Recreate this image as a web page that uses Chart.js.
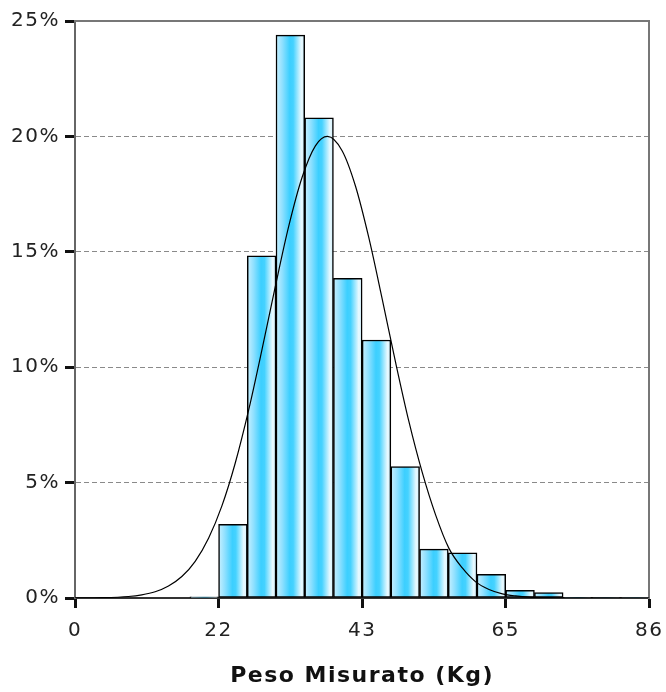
<!DOCTYPE html>
<html>
<head>
<meta charset="utf-8">
<title>Peso Misurato</title>
<script src="https://cdn.jsdelivr.net/npm/chart.js@4/dist/chart.umd.min.js"></script>
<style>
  html, body { margin: 0; padding: 0; background: #fff; }
  #wrap { width: 666px; height: 692px; }
</style>
</head>
<body>
<div id="wrap"><canvas id="c" width="666" height="692"></canvas></div>
<script>
// Weight classes (kg): centres of the 4.3 kg classes from 0 to 86
const binCenters = [2.15, 6.45, 10.75, 15.05, 19.35, 23.65, 27.95, 32.25, 36.55, 40.85,
                    45.15, 49.45, 53.75, 58.05, 62.35, 66.65, 70.95, 75.25, 79.55, 83.85];
// Share of subjects falling in each class (%)
const binShares = [0, 0, 0, 0, 0.05, 3.19, 14.82, 24.39, 20.8, 13.85,
                   11.18, 5.69, 2.12, 1.96, 1.03, 0.33, 0.23, 0.03, 0.02, 0.02];
// Fitted normal curve: weight (kg) and expected share (%)
const curveKg  = [0, 4, 8, 10, 12, 14, 16, 18, 20, 22, 24, 26, 28, 30, 32, 34, 36, 37.8,
                  40, 42, 44, 46, 48, 50, 52, 54, 56, 58, 60, 62, 64, 66, 68, 72, 76, 86];
const curvePct = [0.002, 0.013, 0.065, 0.136, 0.27, 0.52, 0.93, 1.59, 2.59, 3.99, 5.85, 8.14,
                  10.76, 13.5, 16.1, 18.22, 19.59, 20, 19.38, 17.85, 15.61, 12.96, 10.22, 7.65,
                  5.44, 3.6, 2.15, 1.3, 0.7, 0.37, 0.18, 0.09, 0.04, 0.01, 0.002, 0];
// Axis ticks
const yTicks = [0, 5, 10, 15, 20, 25];
const xTickValues = [0, 21.5, 43, 64.5, 86];
const xTickLabels = ['0', '22', '43', '65', '86'];
const xTitle = 'Peso Misurato (Kg)';

const FONT = 'DejaVu Sans';

// Vertical cyan shading for each bar, spanning its own class width
function barFill(ctx) {
  const chart = ctx.chart;
  const xs = chart.scales && chart.scales.x;
  if (ctx.type !== 'data' || !xs || !isFinite(xs.left) || xs.right <= xs.left) return '#55d4ff';
  const half = (binCenters[1] - binCenters[0]) / 2;
  const c = binCenters[ctx.dataIndex];
  const l = xs.getPixelForValue(c - half);
  const r = xs.getPixelForValue(c + half);
  const g = chart.ctx.createLinearGradient(l, 0, r, 0);
  g.addColorStop(0.00, '#c8f0ff');
  g.addColorStop(0.22, '#8fe0ff');
  g.addColorStop(0.48, '#3ccfff');
  g.addColorStop(0.60, '#45d2ff');
  g.addColorStop(0.88, '#e8f9ff');
  g.addColorStop(1.00, '#d0f2ff');
  return g;
}

// Slightly wider lettering for all axis text
const spacedText = {
  id: 'spacedText',
  beforeDraw(chart) { chart.ctx.letterSpacing = '1.5px'; }
};

new Chart(document.getElementById('c'), {
  type: 'bar',
  plugins: [spacedText],
  data: {
    datasets: [
      {
        type: 'line',
        data: curveKg.map((x, i) => ({ x, y: curvePct[i] })),
        borderColor: '#000',
        borderWidth: 1.2,
        pointRadius: 0,
        fill: false,
        cubicInterpolationMode: 'monotone',
        order: 0
      },
      {
        type: 'bar',
        data: binCenters.map((x, i) => ({ x, y: binShares[i] })),
        backgroundColor: barFill,
        borderColor: '#000',
        borderWidth: 1.5,
        borderSkipped: false,
        barPercentage: 1,
        categoryPercentage: 1,
        order: 1
      }
    ]
  },
  options: {
    responsive: false,
    animation: false,
    devicePixelRatio: 1,
    layout: { padding: { left: 0, top: 21, right: 14, bottom: 0 } },
    plugins: { legend: { display: false }, tooltip: { enabled: false } },
    scales: {
      x: {
        type: 'linear',
        position: 'bottom',
        min: 0,
        max: 86,
        offset: false,
        afterBuildTicks: s => { s.ticks = xTickValues.map(v => ({ value: v })); },
        afterFit: s => { s.height = 94; },
        ticks: {
          autoSkip: false,
          maxRotation: 0,
          callback: (v, i) => xTickLabels[i],
          font: { family: FONT, size: 20, lineHeight: 1.9 },
          color: '#222',
          padding: 4
        },
        grid: {
          display: true,
          offset: false,
          drawOnChartArea: false,
          drawTicks: true,
          tickLength: 10,
          tickWidth: 3,
          tickColor: '#111',
          color: '#111',
          lineWidth: 1
        },
        border: { color: '#333', width: 2 },
        title: {
          display: true,
          text: xTitle,
          font: { family: FONT, size: 22, weight: 'bold' },
          color: '#111',
          padding: { top: 0, bottom: 3 }
        }
      },
      y: {
        type: 'linear',
        position: 'left',
        min: 0,
        max: 25,
        afterBuildTicks: s => { s.ticks = yTicks.map(v => ({ value: v })); },
        afterFit: s => { s.width = 75; },
        ticks: {
          callback: v => v + '%',
          font: { family: FONT, size: 20 },
          color: '#222',
          padding: 5
        },
        grid: {
          color: c => (c.tick && (c.tick.value === 0 || c.tick.value === 25)) ? 'rgba(0,0,0,0)' : '#8a8a8a',
          lineWidth: 1,
          drawTicks: true,
          tickLength: 10,
          tickWidth: 3,
          tickColor: '#111'
        },
        border: { color: '#666', width: 2, dash: [5, 3] }
      },
      frameTop: {
        type: 'linear',
        position: 'top',
        display: true,
        ticks: { display: false },
        grid: { display: false, drawTicks: false },
        border: { color: '#777', width: 2 }
      },
      frameRight: {
        type: 'linear',
        position: 'right',
        display: true,
        ticks: { display: false },
        grid: { display: false, drawTicks: false },
        border: { color: '#777', width: 2 }
      }
    }
  }
});
</script>
</body>
</html>
